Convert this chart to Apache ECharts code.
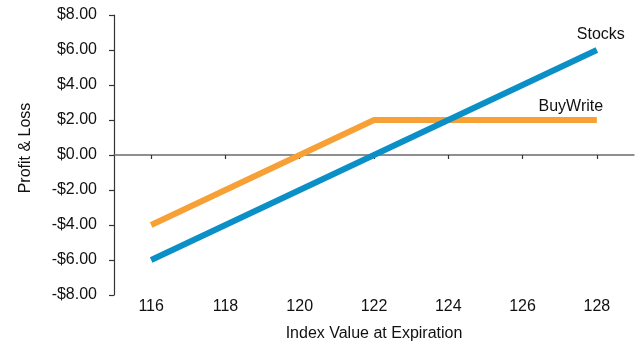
<!DOCTYPE html>
<html>
<head>
<meta charset="utf-8">
<script src="https://cdn.jsdelivr.net/npm/echarts@6/dist/echarts.min.js"></script>
<style>
  html, body { margin: 0; padding: 0; background: #fff; }
  #chart { width: 637px; height: 347px; }
</style>
</head>
<body>
<div id="chart"></div>
<script>
// Index levels at expiration (x axis categories)
const indexValues = ['116', '118', '120', '122', '124', '126', '128'];
// Profit / loss of holding the stocks outright
const stocksPL = [-6, -4, -2, 0, 2, 4, 6];
// Profit / loss of the buy-write (covered call) position
const buyWritePL = [-4, -2, 0, 2, 2, 2, 2];
// Value axis ticks
const plMin = -8, plMax = 8, plStep = 2;

const FONT = '"Liberation Sans", Arial, sans-serif';
const TEXT = '#111';

function money(v) {
  return (v < 0 ? '-' : '') + '$' + Math.abs(v).toFixed(2);
}

// series name written just above the last point of the line
function lastPointLabel(name, data, offset, distance) {
  return {
    show: true,
    position: 'top',
    distance: distance,
    offset: offset,
    color: TEXT,
    fontFamily: FONT,
    fontSize: 16,
    formatter: p => (p.dataIndex === data.length - 1 ? name : '')
  };
}

const chart = echarts.init(document.getElementById('chart'), null, { renderer: 'canvas' });

chart.setOption({
  animation: false,
  backgroundColor: '#fff',
  grid: { left: 114, right: 3, top: 15, bottom: 47, containLabel: false },
  xAxis: [
    {
      // bottom axis: labels and title only
      type: 'category',
      position: 'bottom',
      data: indexValues,
      boundaryGap: true,
      axisLine: { show: false, onZero: false },
      axisTick: { show: false },
      axisLabel: { color: TEXT, fontFamily: FONT, fontSize: 16, margin: 4 },
      name: 'Index Value at Expiration',
      nameLocation: 'middle',
      nameGap: 31,
      nameTextStyle: { color: TEXT, fontFamily: FONT, fontSize: 16 }
    },
    {
      // zero line with its tick marks
      type: 'category',
      position: 'top',
      data: indexValues,
      boundaryGap: true,
      axisLine: { show: true, onZero: true, lineStyle: { color: '#6b6b6b', width: 1.5 } },
      axisTick: { show: true, alignWithLabel: true, inside: true, length: 4, lineStyle: { color: '#333', width: 1.2 } },
      axisLabel: { show: false }
    }
  ],
  yAxis: {
    type: 'value',
    min: plMin,
    max: plMax,
    interval: plStep,
    splitLine: { show: false },
    axisLine: { show: true, onZero: false, lineStyle: { color: '#333', width: 1.2 } },
    axisTick: { show: true, length: 5, lineStyle: { color: '#333', width: 1.2 } },
    axisLabel: { color: TEXT, fontFamily: FONT, fontSize: 16, margin: 17, formatter: money },
    name: 'Profit & Loss',
    nameLocation: 'middle',
    nameGap: 80,
    nameRotate: 90,
    nameTextStyle: { color: TEXT, fontFamily: FONT, fontSize: 16, padding: [0, 0, 0, 14] }
  },
  series: [
    {
      name: 'BuyWrite',
      type: 'line',
      xAxisIndex: 0,
      data: buyWritePL,
      showSymbol: true,
      symbol: 'circle',
      symbolSize: 0,
      lineStyle: { color: '#f7a035', width: 6, cap: 'butt', join: 'miter' },
      itemStyle: { color: '#f7a035' },
      label: lastPointLabel('BuyWrite', buyWritePL, [-26, 0], 5),
      z: 2
    },
    {
      name: 'Stocks',
      type: 'line',
      xAxisIndex: 0,
      data: stocksPL,
      showSymbol: true,
      symbol: 'circle',
      symbolSize: 0,
      lineStyle: { color: '#0b8fc7', width: 6, cap: 'butt', join: 'miter' },
      itemStyle: { color: '#0b8fc7' },
      label: lastPointLabel('Stocks', stocksPL, [4, 0], 7),
      z: 3
    }
  ]
});
</script>
</body>
</html>
